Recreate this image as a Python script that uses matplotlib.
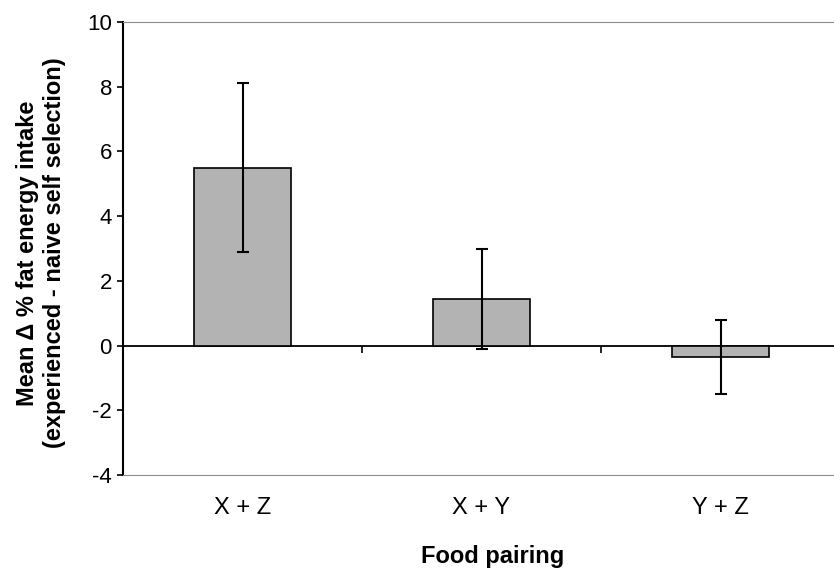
import matplotlib.pyplot as plt

pairings = ['X + Z', 'X + Y', 'Y + Z']
mean_delta = [5.5, 1.45, -0.35]
sem = [2.6, 1.55, 1.15]

plt.rcParams['font.family'] = ['Liberation Sans', 'DejaVu Sans']
plt.rcParams['axes.unicode_minus'] = False

fig = plt.figure(figsize=(8.34, 5.72), dpi=100)
ax = fig.add_axes([123 / 834, 97 / 572, 1 - 123 / 834, 453 / 572])

pos = list(range(1, len(pairings) + 1))
ax.bar(pos, mean_delta, width=0.405, color='#b3b3b3', edgecolor='black', linewidth=1.2, zorder=2)
ax.errorbar(pos, mean_delta, yerr=sem, fmt='none', ecolor='black', elinewidth=1.5,
            capsize=4.5, capthick=1.5, zorder=3)

ax.set_ylim(-4, 10)
ax.set_yticks(range(-4, 11, 2))
ax.set_xlim(0.5, 0.5 + (834 - 123) / 239)
ax.set_xticks(pos)
ax.set_xticklabels(pairings)
ax.tick_params(axis='x', length=0, pad=16, labelsize=17)
ax.tick_params(axis='y', length=4, width=1.2, labelsize=16, pad=4)

ax.spines['right'].set_visible(False)
ax.spines['top'].set_color('#8c8c8c')
ax.spines['bottom'].set_color('#8c8c8c')
ax.spines['left'].set_linewidth(1.5)

# zero line with category separators
zero = ax.secondary_xaxis(4 / 14)
zero.set_xticks([1.5, 2.5])
zero.set_xticklabels([])
zero.tick_params(length=5, width=1.2, direction='out')
zero.spines['bottom'].set_linewidth(1.3)

fig.text(493 / 834, 1 - 556 / 572, 'Food pairing', ha='center', va='center',
         fontsize=17, fontweight='bold')
fig.text(41 / 834, 1 - 253 / 572, 'Mean \u0394 % fat energy intake\n(experienced - naive self selection)',
         rotation=90, ha='center', va='center', fontsize=17, fontweight='bold', linespacing=1.2)

fig.savefig('out.png', dpi=100)
